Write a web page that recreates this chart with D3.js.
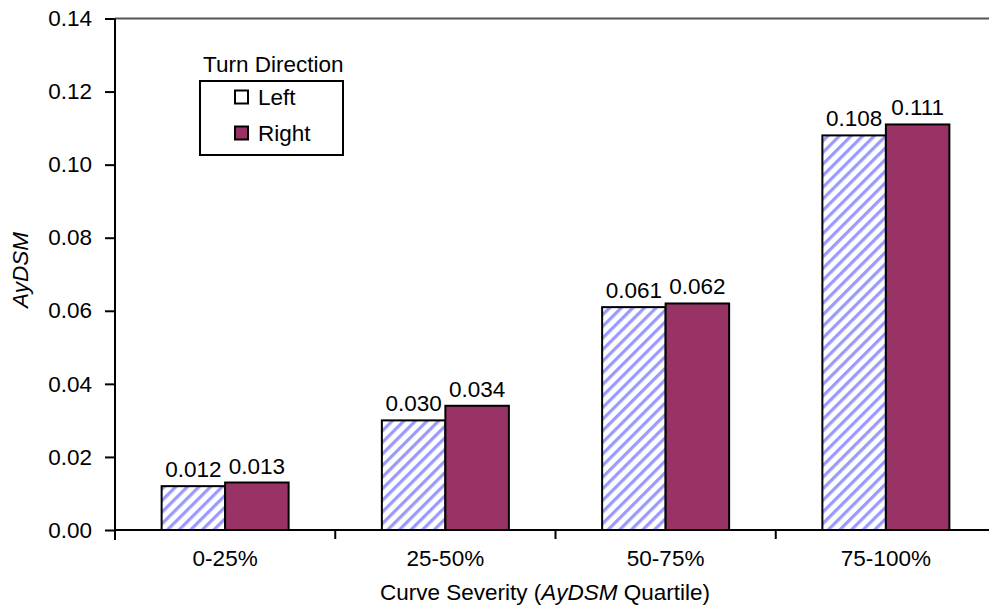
<!DOCTYPE html>
<html>
<head>
<meta charset="utf-8">
<script src="https://cdn.jsdelivr.net/npm/d3@7"></script>
<style>
  body { margin: 0; background: #fff; }
  svg { display: block; font-family: "Liberation Sans", Arial, sans-serif; }
</style>
</head>
<body>
<svg id="chart" width="989" height="610"></svg>
<script>
const categories = ["0-25%", "25-50%", "50-75%", "75-100%"];
const seriesNames = ["Left", "Right"];
const leftValues = [0.012, 0.030, 0.061, 0.108];
const rightValues = [0.013, 0.034, 0.062, 0.111];
const yTicks = [0, 0.02, 0.04, 0.06, 0.08, 0.10, 0.12, 0.14];

const svg = d3.select("#chart");
const fontSize = 22.5;

const x0 = d3.scaleBand().domain(categories).range([115, 996]);
const groupW = 127;
const x1 = d3.scaleBand().domain(seriesNames).range([0, groupW]);
const y = d3.scaleLinear().domain([0, 0.14]).range([530, 18.5]);

// hatch pattern
const defs = svg.append("defs");
const pat = defs.append("pattern")
  .attr("id", "hatch").attr("patternUnits", "userSpaceOnUse")
  .attr("width", 8.2).attr("height", 8.2)
  .attr("patternTransform", "rotate(45)");
pat.append("rect").attr("width", 8.2).attr("height", 8.2).attr("fill", "#fff");
pat.append("rect").attr("x", 0).attr("y", 0).attr("width", 3.2).attr("height", 8.2).attr("fill", "#9999ff");

// top frame line
svg.append("line").attr("x1", 115).attr("x2", 989).attr("y1", y(0.14)).attr("y2", y(0.14))
  .attr("stroke", "#555").attr("stroke-width", 2);

const data = categories.map((c, i) => ({ cat: c, vals: [
  { s: "Left", v: leftValues[i] }, { s: "Right", v: rightValues[i] }] }));

const fills = { Left: "url(#hatch)", Right: "#993366" };

const groups = svg.append("g").selectAll("g").data(data).join("g")
  .attr("transform", d => `translate(${x0(d.cat) + (x0.bandwidth() - groupW) / 2},0)`);

groups.selectAll("rect").data(d => d.vals).join("rect")
  .attr("x", d => x1(d.s))
  .attr("width", x1.bandwidth())
  .attr("y", d => y(d.v))
  .attr("height", d => y(0) - y(d.v))
  .attr("fill", d => fills[d.s])
  .attr("stroke", "#000").attr("stroke-width", 2);

groups.selectAll("text").data(d => d.vals).join("text")
  .attr("x", d => x1(d.s) + x1.bandwidth() / 2)
  .attr("y", d => y(d.v) - 9)
  .attr("text-anchor", "middle")
  .attr("font-size", fontSize)
  .text(d => d3.format(".3f")(d.v));

// y axis
const yAxis = d3.axisLeft(y).tickValues(yTicks).tickFormat(d3.format(".2f"))
  .tickSize(10).tickPadding(13);
const gy = svg.append("g").attr("transform", "translate(115,0)").call(yAxis);
gy.select(".domain").attr("stroke-width", 2).attr("d", `M0,${y(0.14)}V${y(0) + 10}`);
gy.selectAll(".tick line").attr("stroke-width", 2);
gy.selectAll(".tick text").attr("font-size", fontSize).attr("font-family", "Liberation Sans, Arial, sans-serif").attr("fill", "#000");

// x axis
const xAxis = d3.axisBottom(x0).tickSize(0).tickPadding(20);
const gx = svg.append("g").attr("transform", `translate(0,${y(0)})`).call(xAxis);
gx.select(".domain").attr("stroke-width", 2).attr("d", "M115,0H989");
gx.selectAll(".tick text").attr("font-size", fontSize).attr("font-family", "Liberation Sans, Arial, sans-serif").attr("fill", "#000");
gx.selectAll(".sep").data(categories).join("line").attr("class", "sep")
  .attr("x1", d => x0(d)).attr("x2", d => x0(d))
  .attr("y1", 0).attr("y2", 9).attr("stroke", "#000").attr("stroke-width", 2);

// axis titles
svg.append("text").attr("transform", "translate(28,270) rotate(-90)")
  .attr("text-anchor", "middle").attr("font-size", fontSize).attr("font-style", "italic")
  .text("AyDSM");

const xt = svg.append("text").attr("x", 545).attr("y", 600)
  .attr("text-anchor", "middle").attr("font-size", fontSize);
xt.append("tspan").text("Curve Severity (");
xt.append("tspan").attr("font-style", "italic").text("AyDSM");
xt.append("tspan").text(" Quartile)");

// legend
const lg = svg.append("g");
lg.append("rect").attr("x", 200).attr("y", 81).attr("width", 143).attr("height", 74)
  .attr("fill", "#fff").attr("stroke", "#000").attr("stroke-width", 2);
lg.append("text").attr("x", 203).attr("y", 72).attr("font-size", fontSize).text("Turn Direction");
const legY = [97, 133];
seriesNames.forEach((s, i) => {
  lg.append("rect").attr("x", 235).attr("y", legY[i] - 6.5).attr("width", 13).attr("height", 13)
    .attr("fill", s === "Left" ? "#fff" : fills[s]).attr("stroke", "#000").attr("stroke-width", 2);
  lg.append("text").attr("x", 258).attr("y", legY[i] + 8).attr("font-size", fontSize).text(s);
});
</script>
</body>
</html>
